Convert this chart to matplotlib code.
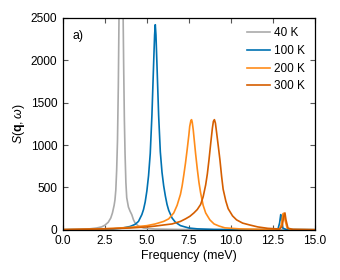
import matplotlib
matplotlib.use('Agg')
import matplotlib.pyplot as plt
import numpy as np

plt.rcParams['font.family'] = ['Liberation Sans', 'DejaVu Sans']
plt.rcParams['mathtext.fontset'] = 'custom'
plt.rcParams['mathtext.rm'] = 'Liberation Sans'
plt.rcParams['mathtext.it'] = 'Liberation Sans:italic'
plt.rcParams['mathtext.bf'] = 'Liberation Sans:bold'

# values (frequency in meV, S(q,w))
f40 = [0.0, 1.0, 1.5, 2.0, 2.3, 2.5, 2.7, 2.85, 2.95, 3.05, 3.1, 3.15, 3.2, 3.25, 3.3, 3.35,
       3.4, 3.46, 3.52, 3.57, 3.62, 3.66, 3.7, 3.75, 3.8, 3.9, 4.0, 4.1, 4.2, 4.3, 4.5, 4.8,
       5.5, 7.0, 10.0, 15.0]
s40 = [2, 5, 10, 22, 35, 55, 90, 140, 200, 290, 354, 470, 700, 1050, 1700, 2700,
       3800, 4300, 3800, 2800, 1900, 1300, 900, 560, 380, 270, 220, 180, 120, 80, 45, 22,
       10, 5, 3, 2]

f100 = [0.0, 1.0, 2.0, 3.0, 3.5, 4.0, 4.3, 4.5, 4.7, 4.8, 4.9, 5.0, 5.1, 5.2, 5.3, 5.4, 5.46,
        5.5, 5.54, 5.6, 5.7, 5.8, 5.9, 6.0, 6.1, 6.2, 6.3, 6.5, 6.7, 7.0, 7.5, 8.0, 9.0,
        11.0, 12.8, 12.9, 12.97, 13.02, 13.1, 13.3, 15.0]
s100 = [2, 4, 8, 12, 20, 40, 65, 100, 180, 240, 330, 460, 640, 900, 1350, 1950, 2300,
        2420, 2300, 1950, 1350, 920, 680, 520, 400, 300, 230, 140, 90, 50, 22, 12, 5,
        2, 5, 80, 180, 120, 20, 5, 2]

f200 = [0.0, 2.0, 3.0, 4.0, 5.0, 5.5, 6.0, 6.3, 6.6, 6.8, 7.0, 7.1, 7.2, 7.3, 7.4, 7.5, 7.55,
        7.62, 7.66, 7.7, 7.76, 7.83, 7.9, 8.0, 8.1, 8.2, 8.35, 8.5, 8.75, 9.0, 9.3, 9.64, 10.5,
        12.0, 12.9, 13.0, 13.1, 13.15, 13.22, 13.35, 13.6, 15.0]
s200 = [3, 10, 18, 30, 50, 70, 100, 130, 200, 290, 420, 520, 650, 790, 950, 1120, 1220,
        1290, 1300, 1270, 1180, 1040, 900, 720, 560, 436, 290, 200, 118, 70, 45, 24, 12,
        6, 6, 60, 190, 197, 120, 20, 5, 2]

f300 = [0.0, 2.0, 3.0, 4.0, 5.0, 5.5, 6.0, 6.5, 7.0, 7.3, 7.56, 7.8, 8.0, 8.2, 8.35, 8.5, 8.6,
        8.7, 8.8, 8.9, 8.96, 9.02, 9.08, 9.15, 9.25, 9.35, 9.45, 9.54, 9.7, 9.84, 10.1, 10.34,
        10.7, 11.1, 11.6, 12.2, 12.9, 13.05, 13.15, 13.22, 13.28, 13.4, 13.7, 15.0]
s300 = [3, 10, 15, 22, 35, 45, 58, 70, 100, 130, 160, 200, 240, 300, 390, 530, 660,
        830, 1020, 1200, 1280, 1300, 1260, 1150, 990, 825, 630, 480, 340, 250, 165, 118,
        80, 59, 35, 18, 10, 40, 160, 200, 120, 20, 5, 2]

labels = ['40 K', '100 K', '200 K', '300 K']
colors = ['#aaaaaa', '#0072b2', '#ff8c1a', '#d55e00']

fig = plt.figure(figsize=(3.4, 2.8), dpi=100)
ax = fig.add_axes([0.185, 0.179, 0.741, 0.757])

for f, s, lab, c in zip([f40, f100, f200, f300], [s40, s100, s200, s300], labels, colors):
    ax.plot(f, s, color=c, lw=1.2, label=lab)

ax.set_xlim(0, 15)
ax.set_ylim(0, 2500)
ax.set_xticks(np.arange(0, 15.1, 2.5))
ax.set_yticks(np.arange(0, 2501, 500))
ax.tick_params(direction='in', top=True, right=True, length=3.5, width=0.8,
               color='#555555', labelsize=8.6, pad=4)
for sp in ax.spines.values():
    sp.set_linewidth(0.9)

ax.set_xlabel('Frequency (meV)', fontsize=8.9, labelpad=2)
ax.set_ylabel(r'$S(\mathbf{q},\omega)$', fontsize=8.9, labelpad=3)
ax.text(0.04, 0.9, 'a)', transform=ax.transAxes, fontsize=8.9)

ax.legend(loc='upper right', frameon=False, fontsize=8.5, handlelength=1.95,
          handletextpad=0.4, labelspacing=0.48, borderaxespad=0.4)

fig.savefig('out.png', dpi=100)
